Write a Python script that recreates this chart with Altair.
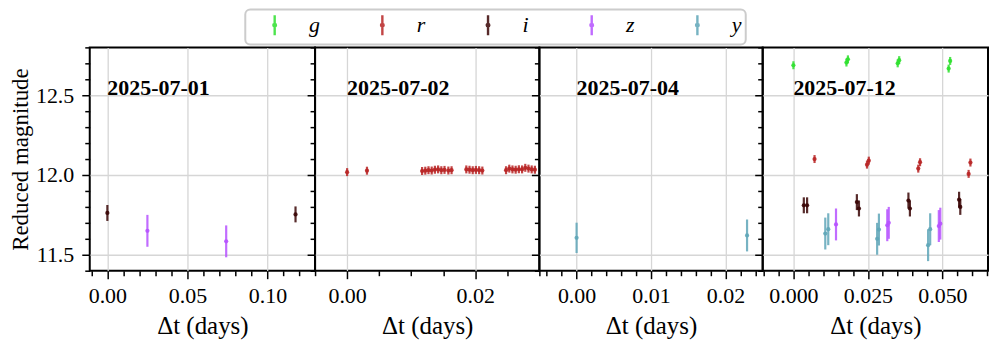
import altair as alt
import pandas as pd

# ---------------- data ----------------
bands = ["g", "r", "i", "z", "y"]
band_colors = ["#2fe02f", "#b82525", "#3a0606", "#b652ff", "#5fa6b8"]
dates = ["2025-07-01", "2025-07-02", "2025-07-04", "2025-07-12"]

# 2025-07-01
p1_band = ["i", "z", "z", "i"]
p1_t = [0.0, 0.0250, 0.0742, 0.1175]
p1_mag = [11.762, 11.650, 11.584, 11.753]
p1_err = [0.05, 0.10, 0.10, 0.05]

# 2025-07-02
p2_t = [0.0, 0.0031,
        0.0117, 0.0122, 0.0127, 0.0132, 0.0137, 0.0142, 0.0147, 0.0152, 0.0158, 0.0163,
        0.0186, 0.0191, 0.0196, 0.0201, 0.0206, 0.0211,
        0.0248, 0.0253, 0.0258, 0.0263, 0.0268, 0.0273, 0.0278, 0.0283, 0.0288, 0.0293]
p2_mag = [12.018, 12.027,
          12.025, 12.027, 12.030, 12.028, 12.033, 12.035, 12.030, 12.032, 12.028, 12.030,
          12.035, 12.033, 12.030, 12.032, 12.030, 12.028,
          12.030, 12.040, 12.035, 12.033, 12.036, 12.035, 12.045, 12.040, 12.035, 12.033]
p2_band = ["r"] * len(p2_t)
p2_err = [0.025] * len(p2_t)

# 2025-07-04
p3_band = ["y", "y"]
p3_t = [0.0, 0.0229]
p3_mag = [11.606, 11.621]
p3_err = [0.095, 0.10]

# 2025-07-12
p4_band = ["g", "g", "g", "g", "g", "g", "g",
           "r", "r", "r", "r", "r", "r", "r",
           "i", "i", "i", "i", "i", "i", "i", "i",
           "y", "y", "y", "y", "y", "y",
           "z", "z", "z", "z", "z"]
p4_t = [0.0, 0.0178, 0.0183, 0.0350, 0.0355, 0.0521, 0.0526,
        0.0071, 0.0247, 0.0253, 0.0419, 0.0425, 0.0588, 0.0594,
        0.0035, 0.0046, 0.0213, 0.0220, 0.0386, 0.0391, 0.0556, 0.0560,
        0.0107, 0.0117, 0.0281, 0.0287, 0.0452, 0.0459,
        0.0143, 0.0315, 0.0320, 0.0488, 0.0493]
p4_mag = [12.688, 12.705, 12.725, 12.700, 12.720, 12.667, 12.715,
          12.100, 12.065, 12.090, 12.040, 12.080, 12.007, 12.078,
          11.810, 11.810, 11.830, 11.790, 11.840, 11.790, 11.845, 11.800,
          11.633, 11.660, 11.600, 11.658, 11.560, 11.660,
          11.690, 11.685, 11.700, 11.680, 11.695]
p4_err = [0.025] * 7 + [0.025] * 7 + [0.05] * 8 + [0.10] * 6 + [0.10] * 5

x_domains = [[-0.011, 0.1297], [-0.005, 0.030], [-0.005, 0.025], [-0.0103, 0.0653]]
x_major = [[0.0, 0.05, 0.10], [0.0, 0.02], [0.0, 0.01, 0.02], [0.0, 0.025, 0.05]]
x_minor = [[-0.01, 0.01, 0.02, 0.03, 0.04, 0.06, 0.07, 0.08, 0.09, 0.11, 0.12],
           [-0.005, 0.005, 0.01, 0.015, 0.025, 0.03],
           [-0.004, -0.002, 0.002, 0.004, 0.006, 0.008, 0.012, 0.014, 0.016, 0.018, 0.022, 0.024],
           [-0.01, -0.005, 0.005, 0.01, 0.015, 0.02, 0.03, 0.035, 0.04, 0.045, 0.055, 0.06, 0.065]]
x_formats = [".2f", ".2f", ".2f", ".3f"]
y_domain = [11.4, 12.8]
y_major = [11.5, 12.0, 12.5]
y_minor = [11.4, 11.6, 11.7, 11.8, 11.9, 12.1, 12.2, 12.3, 12.4, 12.6, 12.7, 12.8]
panel_widths = [226, 225, 224, 226]
label_mag = 12.5

SERIF = "Liberation Serif"
LEGEND_PATH = ("M0,-1L0,1M-0.13,0A0.13,0.13 0 1,1 0.13,0A0.13,0.13 0 1,1 -0.13,0")

panel_data = [
    (p1_band, p1_t, p1_mag, p1_err),
    (p2_band, p2_t, p2_mag, p2_err),
    (p3_band, p3_t, p3_mag, p3_err),
    (p4_band, p4_t, p4_mag, p4_err),
]

color_scale = alt.Scale(domain=bands, range=band_colors)
band_legend = alt.Legend(
    title=None, orient="none", legendX=156, legendY=-38,
    direction="horizontal", columns=5,
    symbolType=LEGEND_PATH, symbolSize=400, symbolStrokeWidth=2.4,
    symbolOffset=14, symbolFillColor="transparent",
    labelFont=SERIF, labelFontStyle="italic", labelFontSize=22,
    labelOffset=23, columnPadding=37, padding=4,
    strokeColor="#cccccc", cornerRadius=5, fillColor="white",
)


def make_panel(k):
    b, t, m, e = panel_data[k]
    df = pd.DataFrame({"band": b, "t": t, "mag": m, "err": e})
    first = k == 0
    xs = alt.Scale(domain=x_domains[k], nice=False, zero=False)
    ys = alt.Scale(domain=y_domain, nice=False, zero=False)
    base = alt.Chart(df).transform_calculate(
        lo="datum.mag - datum.err", hi="datum.mag + datum.err"
    )
    y_axis_kw = dict(values=y_major, format=".1f", labels=first, grid=True,
                     orient="left", tickSize=8)
    if first:
        y_axis_kw["title"] = "Reduced magnitude"
    else:
        y_axis_kw["title"] = None
    rules = base.mark_rule(strokeWidth=2.2, opacity=0.85).encode(
        x=alt.X("t:Q", scale=xs,
                axis=alt.Axis(values=x_major[k], format=x_formats[k],
                              title="Δt (days)", grid=True, orient="bottom",
                              tickSize=8)),
        y=alt.Y("lo:Q", scale=ys, axis=alt.Axis(**y_axis_kw)),
        y2="hi:Q",
        color=alt.Color("band:N", scale=color_scale, legend=band_legend),
    )
    pts = base.mark_circle(size=18, opacity=0.9).encode(
        x=alt.X("t:Q", scale=xs,
                axis=alt.Axis(values=x_minor[k], labels=False, grid=False,
                              orient="bottom", tickSize=5, title=None)),
        y=alt.Y("mag:Q", scale=ys,
                axis=alt.Axis(values=y_minor, labels=False, grid=False,
                              orient="left", tickSize=5, title=None)),
        color=alt.Color("band:N", scale=color_scale, legend=band_legend),
    )
    tdf = pd.DataFrame({"t": [0.0], "mag": [label_mag], "label": [dates[k]]})
    txt = alt.Chart(tdf).mark_text(
        align="left", baseline="alphabetic", font=SERIF, fontSize=22,
        fontWeight="bold", color="black"
    ).encode(
        x=alt.X("t:Q", scale=xs, axis=None),
        y=alt.Y("mag:Q", scale=ys, axis=None),
        text="label:N",
    )
    return alt.layer(rules, pts, txt).resolve_axis(
        x="independent", y="independent"
    ).properties(width=panel_widths[k], height=224)


panels = [make_panel(k) for k in range(4)]

chart = alt.hconcat(*panels, spacing=0, bounds="flush").properties(
    padding={"left": 0, "top": 0, "right": 0, "bottom": 0}
).configure_view(
    stroke="black", strokeWidth=2
).configure_axis(
    domain=False, tickColor="black", tickWidth=1.5,
    gridColor="#d6d6d6", gridWidth=1.3,
    labelFont=SERIF, labelFontSize=22, labelColor="black",
    titleFont=SERIF, titleFontWeight="normal", titleColor="black",
).configure_axisX(
    labelPadding=7, titlePadding=7, titleFontSize=25,
).configure_axisY(
    labelPadding=8, titlePadding=3, titleFontSize=23,
).configure_legend(strokeWidth=2)

chart.save("out.html", embed_options={"renderer": "svg", "actions": False})
